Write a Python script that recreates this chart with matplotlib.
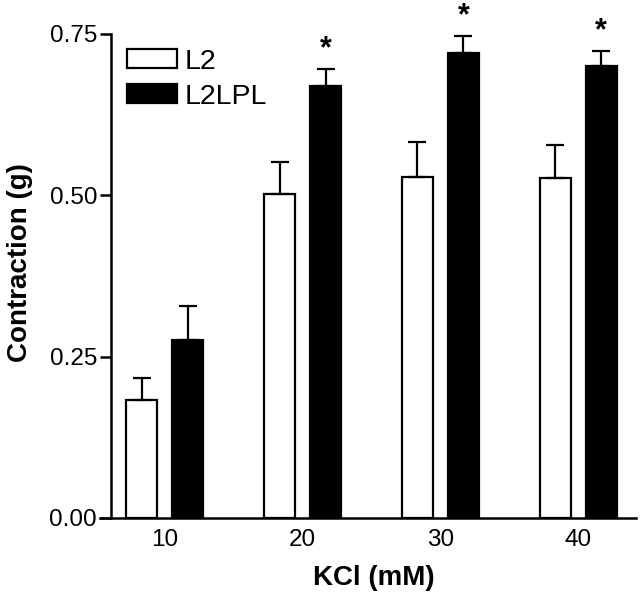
import numpy as np
import matplotlib
matplotlib.use("Agg")
import matplotlib.pyplot as plt

plt.rcParams['font.family'] = ['Liberation Sans', 'DejaVu Sans']

# data
kcl = ['10', '20', '30', '40']
l2_mean = [0.183, 0.502, 0.528, 0.527]
l2_sem = [0.034, 0.050, 0.055, 0.051]
lpl_mean = [0.276, 0.670, 0.720, 0.700]
lpl_sem = [0.052, 0.026, 0.027, 0.023]
signif = [False, True, True, True]

x = np.arange(len(kcl))
w = 0.225
off = 0.167

fig = plt.figure(figsize=(6.4, 5.96), dpi=100)
ax = fig.add_axes([0.1734, 0.131, 0.8206, 0.812])

err_kw = dict(ecolor='black', elinewidth=1.6, capsize=6.5, capthick=1.6)
ax.bar(x - off, l2_mean, w, color='white', edgecolor='black', linewidth=1.6,
       yerr=[np.zeros(4), l2_sem], error_kw=err_kw, label='L2')
ax.bar(x + off, lpl_mean, w, color='black', edgecolor='black', linewidth=1.6,
       yerr=[np.zeros(4), lpl_sem], error_kw=err_kw, label='L2LPL')

# asterisks for significant differences
for i in range(len(kcl)):
    if signif[i]:
        ax.text(x[i] + off, lpl_mean[i] + lpl_sem[i] + 0.031, '*', ha='center',
                va='center', fontsize=22, fontweight='bold', clip_on=False)

ax.set_xlim(-0.39, 3.42)
ax.set_ylim(0, 0.75)
ax.set_yticks([0, 0.25, 0.5, 0.75])
ax.set_yticklabels(['0.00', '0.25', '0.50', '0.75'])
ax.set_xticks(x)
ax.set_xticklabels(kcl)
ax.tick_params(axis='y', length=8, width=1.8, labelsize=17.5, pad=2)
ax.tick_params(axis='x', length=0, labelsize=17.5, pad=8)

for s in ['top', 'right']:
    ax.spines[s].set_visible(False)
ax.spines['left'].set_linewidth(1.8)
ax.spines['bottom'].set_linewidth(1.8)
ax.spines['bottom'].set_bounds(-0.47, 3.42)

ax.set_xlabel('KCl (mM)', fontsize=20, fontweight='bold')
ax.set_ylabel('Contraction (g)', fontsize=20, fontweight='bold')
ax.xaxis.set_label_coords(0.5, -0.097)
ax.yaxis.set_label_coords(-0.149, 0.527)

ax.legend(loc='upper left', frameon=False, fontsize=20.5, handlelength=1.75,
          handleheight=0.65, handletextpad=0.3, labelspacing=0.3,
          bbox_to_anchor=(0.03, 0.969), borderaxespad=0, borderpad=0)

fig.savefig('out.png', dpi=100)
